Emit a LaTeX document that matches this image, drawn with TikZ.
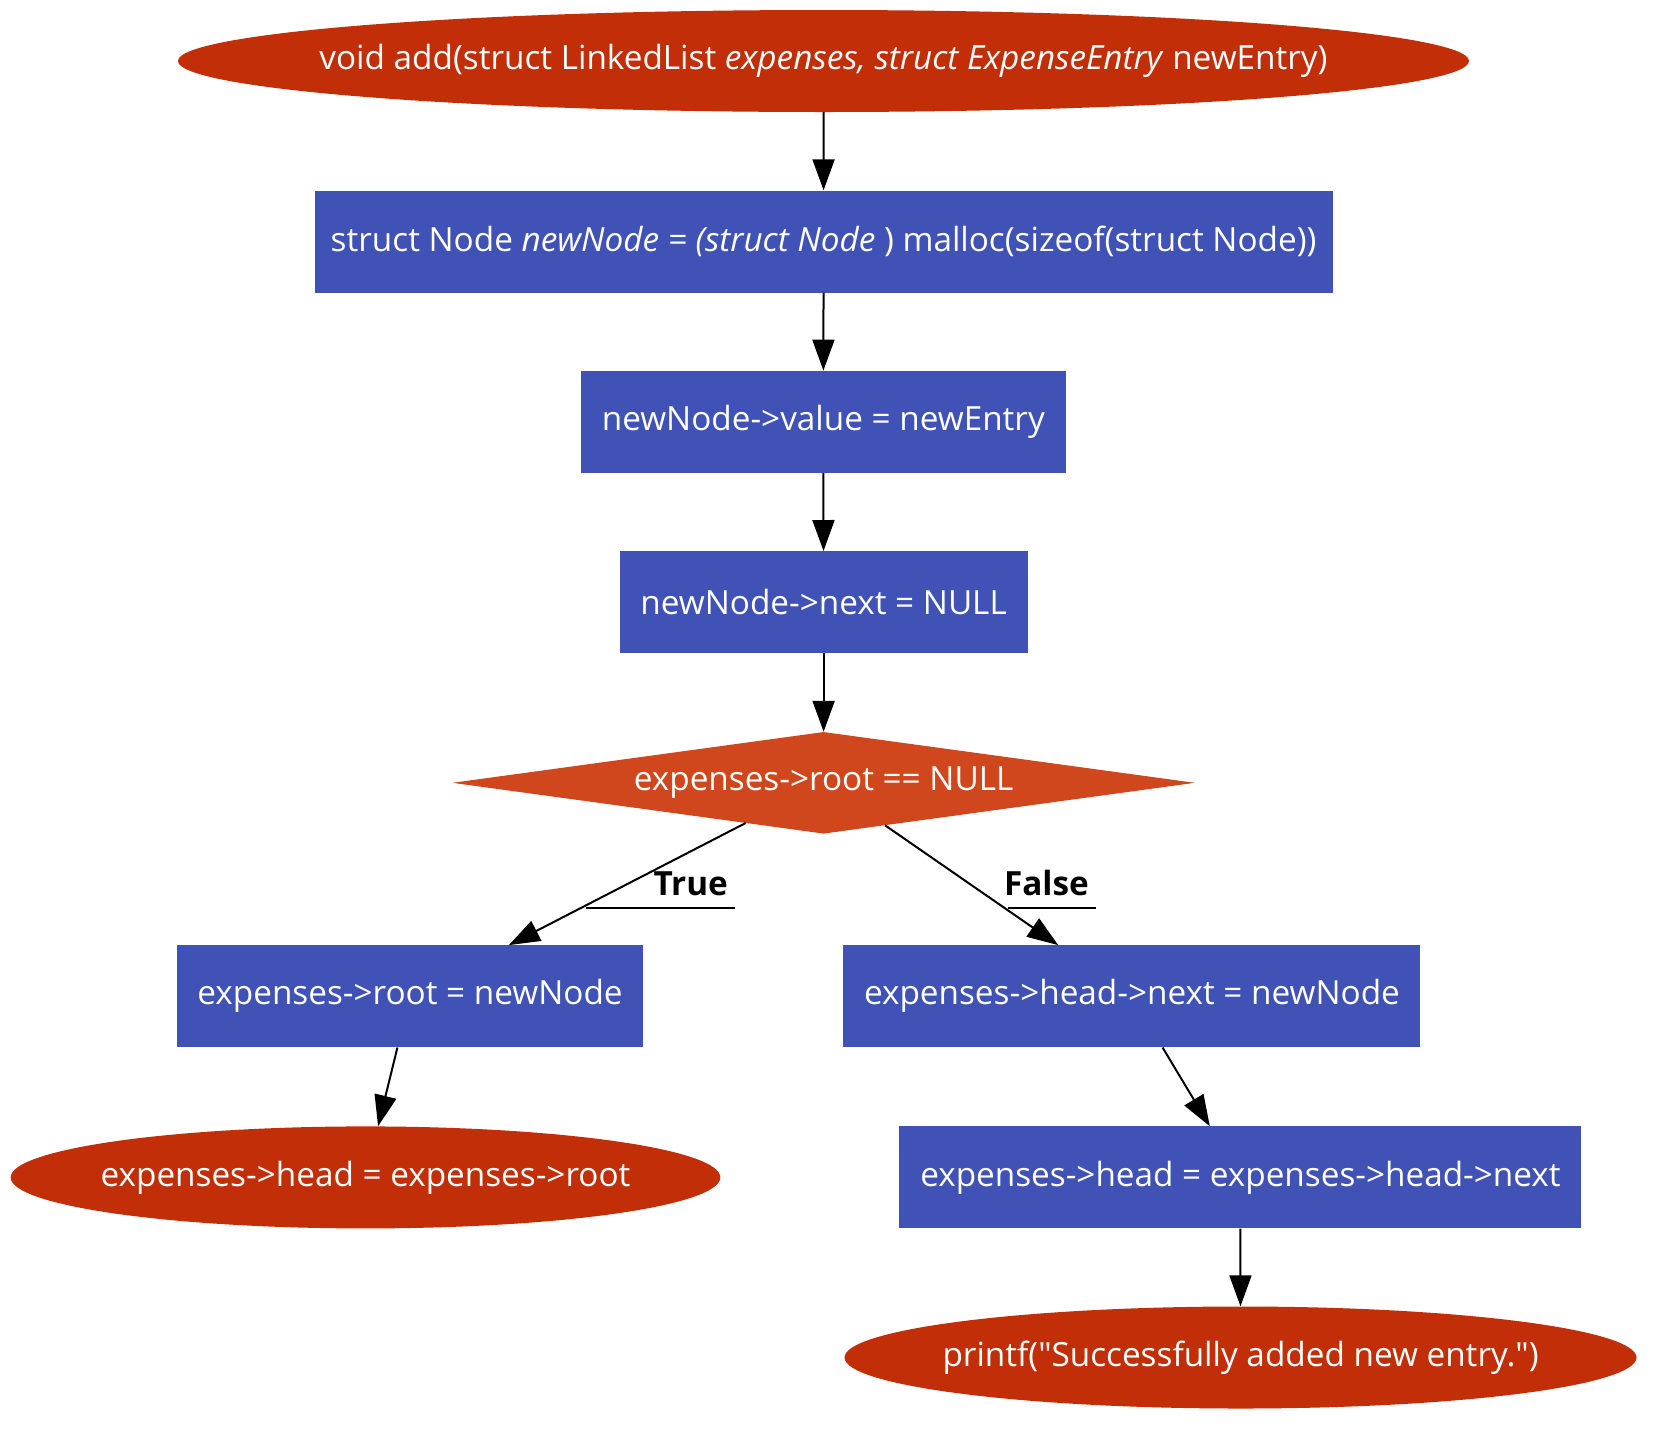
\documentclass[tikz,border=0pt]{standalone}
\usepackage{fontspec}
\setmainfont{Open Sans}
\usetikzlibrary{shapes.geometric,arrows.meta}

\definecolor{termred}{RGB}{194,46,7}
\definecolor{condred}{RGB}{209,71,29}
\definecolor{stepblue}{RGB}{64,82,181}
\newcommand\slimtext[1]{\makebox[0pt]{#1}}

\begin{document}
\begin{tikzpicture}[x=1pt,y=-1pt,
    every node/.style={text=white, inner sep=0pt, font=\fontsize{33.3}{40}\selectfont},
    term/.style={ellipse, fill=termred, minimum height=102pt},
    stepbox/.style={rectangle, fill=stepblue, minimum height=102pt},
    cond/.style={diamond, fill=condred, shape aspect=7.3},
    branch/.style={text=black, font=\fontsize{33.3}{40}\selectfont\bfseries},
    flow/.style={-{Triangle[length=31pt,width=22pt]}, line width=2pt}]

    \useasboundingbox (0,0) rectangle (1661,1433);

    % Main line
    \node [term, minimum width=1291pt] (start) at (823.5,61)
      {\slimtext{void add(struct LinkedList \textit{expenses, struct ExpenseEntry} newEntry)}};
    \node [stepbox, minimum width=1018pt] (mal) at (823.6,241.5)
      {\slimtext{struct Node \textit{newNode = (struct Node} ) malloc(sizeof(struct Node))}};
    \node [stepbox, minimum width=485pt] (val) at (823.3,421.8) {\slimtext{newNode->value = newEntry}};
    \node [stepbox, minimum width=408pt] (nxt) at (823.6,602.2) {\slimtext{newNode->next = NULL}};
    \node [cond, minimum width=742.6pt, minimum height=101.7pt] (test) at (823.6,782.8)
      {\slimtext{expenses->root == NULL}};

    \draw [flow] (start) -- (mal);
    \draw [flow] (mal) -- (val);
    \draw [flow] (val) -- (nxt);
    \draw [flow] (nxt) -- (test);

    % True branch
    \node [stepbox, minimum width=466pt] (root) at (410,996.3) {\slimtext{expenses->root = newNode}};
    \node [term, minimum width=709.7pt] (endroot) at (365.5,1177.4)
      {\slimtext{expenses->head = expenses->root}};
    \draw [flow] (test) -- (root);
    \draw [flow] (root) -- (endroot);

    % False branch
    \node [stepbox, minimum width=577pt] (hnext) at (1131.9,996.3)
      {\slimtext{expenses->head->next = newNode}};
    \node [stepbox, minimum width=682pt] (hhead) at (1240.4,1177.4)
      {\slimtext{expenses->head = expenses->head->next}};
    \node [term, minimum width=792pt] (done) at (1240.5,1357.5)
      {\slimtext{printf(\textquotedbl Successfully added new entry.\textquotedbl)}};
    \draw [flow] (test) -- (hnext);
    \draw [flow] (hnext) -- (hhead);
    \draw [flow] (hhead) -- (done);

    % Edge labels
    \node [branch, anchor=base east] (tlbl) at (728,895) {True};
    \node [branch, anchor=base east] (flbl) at (1089,895) {False};
    \coordinate (tcross) at (586,908);
    \coordinate (tend) at (735,908);
    \coordinate (fcross) at (1008,908);
    \coordinate (fend) at (1096,908);
    \draw [line width=2pt] (tcross) -- (tend);
    \draw [line width=2pt] (fcross) -- (fend);

  \end{tikzpicture}
\end{document}
